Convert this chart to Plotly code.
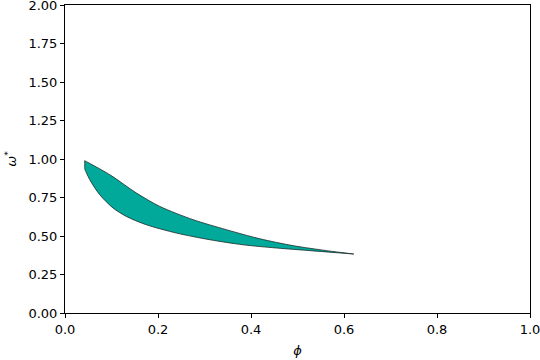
import plotly.graph_objects as go

upper_phi = [0.0424, 0.0964, 0.1536, 0.2038, 0.2755, 0.347, 0.419, 0.491, 0.5625, 0.621]
upper_omega = [0.989, 0.898, 0.779, 0.692, 0.606, 0.541, 0.482, 0.437, 0.405, 0.383]
lower_phi = [0.0424, 0.0532, 0.0747, 0.1033, 0.132, 0.175, 0.2398, 0.3111, 0.383, 0.455, 0.527, 0.621]
lower_omega = [0.935, 0.866, 0.768, 0.682, 0.627, 0.573, 0.519, 0.476, 0.443, 0.422, 0.405, 0.383]

# outline: upper branch, then lower branch back; corner points repeated to keep them sharp
xs = [upper_phi[0]] + upper_phi + [upper_phi[-1]] + lower_phi[::-1] + [lower_phi[0], upper_phi[0], upper_phi[0]]
ys = [upper_omega[0]] + upper_omega + [upper_omega[-1]] + lower_omega[::-1] + [lower_omega[0], upper_omega[0], upper_omega[0]]

fig = go.Figure()
fig.add_trace(go.Scatter(x=xs, y=ys, mode="lines", fill="toself",
                         fillcolor="#00a99a", line=dict(color="#1a2a28", width=0.8, shape="spline", smoothing=0.8),
                         showlegend=False, hoverinfo="skip"))

axis_common = dict(showline=True, linecolor="black", linewidth=1, mirror=True,
                   ticks="outside", ticklen=4, tickcolor="black", showgrid=False, zeroline=False,
                   automargin=False, ticklabeloverflow="allow", tickfont=dict(size=13, color="black"))
fig.update_layout(
    width=540, height=360,
    margin=dict(l=65, r=10, t=5, b=47),
    plot_bgcolor="white", paper_bgcolor="white",
    font=dict(family="DejaVu Sans", size=13, color="black"),
    xaxis=dict(range=[0, 1], tickmode="linear", tick0=0, dtick=0.2, tickformat=".1f",
               title=dict(text="<i>ϕ</i>", standoff=10, font=dict(size=13)), **axis_common),
    yaxis=dict(range=[0, 2], tickmode="linear", tick0=0, dtick=0.25, tickformat=".2f",
               title=dict(text="<i>ω</i><sup>*</sup>", standoff=8, font=dict(size=13)), **axis_common),
)
fig.write_html("out.html", config={"displayModeBar": False},
               post_script="document.body.style.margin='0';document.body.style.overflow='hidden';")
